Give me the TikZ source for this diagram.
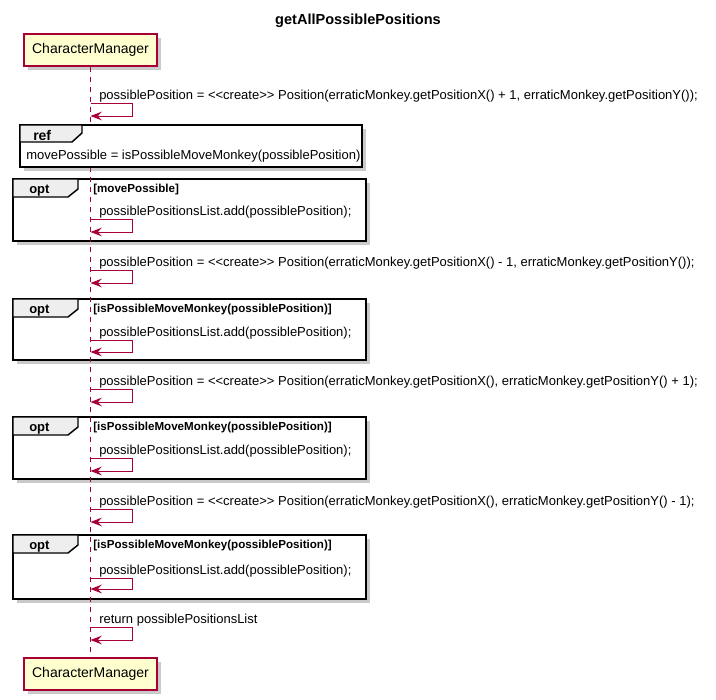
\documentclass[tikz,border=0pt]{standalone}
\usepackage{fontspec}
\setmainfont{Liberation Sans}
\usetikzlibrary{positioning, arrows.meta, shadows}
\definecolor{umlRed} {HTML}{A80036}
\definecolor{umlFill}{HTML}{FEFECE}
\definecolor{umlTab} {HTML}{EEEEEE}
\newcommand{\stereo}[1]{<\kern0pt<#1>\kern0pt>}
\tikzset{
  umlshadow/.style={drop shadow={shadow xshift=3pt, shadow yshift=-3pt, opacity=.35, fill=black!60}},
  participant/.style={draw=umlRed, fill=umlFill, line width=1.1pt, umlshadow,
    minimum width=100pt, minimum height=24pt, inner sep=0pt, font=\fontsize{10.5}{12}\selectfont},
  lifeline/.style={draw=umlRed, line width=0.75pt, dash pattern=on 3.75pt off 3.75pt},
  selfmsg/.style={draw=umlRed, line width=0.75pt, -{Stealth[length=8.5pt, width=6.5pt, inset=3pt]}},
  msgtext/.style={anchor=base west, inner sep=0pt, font=\fontsize{9.75}{11}\selectfont},
  umlframe/.style={draw=black, line width=1.1pt, fill=white, umlshadow},
  umltab/.style={draw=black, line width=1.1pt, fill=umlTab},
  tabtext/.style={anchor=base west, inner sep=0pt, font=\bfseries\fontsize{9.75}{11}\selectfont},
  guard/.style={anchor=base west, inner sep=0pt, font=\bfseries\fontsize{8.7}{10}\selectfont},
}

\begin{document}
\begin{tikzpicture}[x=0.75pt, y=-0.75pt]
  \useasboundingbox (0,0) rectangle (716,699);
  % Title
  \node[anchor=base, inner sep=0pt, font=\bfseries\fontsize{10.9}{12}\selectfont] (title) at (358,25)
       {getAllPossiblePositions};

  % Opt frames (drawn first, lifeline goes over them)
  \draw[umlframe] (13,179) rectangle (366,241);
  \draw[umltab] (13,179) -- (78,179) -- (78,189) -- (68,197) -- (13,197) -- cycle;
  \node[tabtext] (optTabA) at (29,193) {opt};
  \node[guard] (guardA) at (93,192) {[movePossible]};

  \draw[umlframe] (13,299) rectangle (366,360);
  \draw[umltab] (13,299) -- (78,299) -- (78,309) -- (68,317) -- (13,317) -- cycle;
  \node[tabtext] (optTabB) at (29,313) {opt};
  \node[guard] (guardB) at (93,312) {[isPossibleMoveMonkey(possiblePosition)]};

  \draw[umlframe] (13,417) rectangle (366,479);
  \draw[umltab] (13,417) -- (78,417) -- (78,427) -- (68,435) -- (13,435) -- cycle;
  \node[tabtext] (optTabC) at (29,431) {opt};
  \node[guard] (guardC) at (93,430) {[isPossibleMoveMonkey(possiblePosition)]};

  \draw[umlframe] (13,535) rectangle (366,599);
  \draw[umltab] (13,535) -- (78,535) -- (78,545) -- (68,553) -- (13,553) -- cycle;
  \node[tabtext] (optTabD) at (29,549) {opt};
  \node[guard] (guardD) at (93,548) {[isPossibleMoveMonkey(possiblePosition)]};

  % Participant and lifeline
  \node[participant] (cmTop) at (90.5,50)  {CharacterManager};
  \node[participant] (cmBot) at (90.5,674) {CharacterManager};
  \draw[lifeline] (cmTop.south) -- (cmBot.north);

  % Ref frame hides the lifeline
  \draw[umlframe] (20,125) rectangle (362,167);
  \draw[umltab] (20,125) -- (82,125) -- (82,133) -- (72,142) -- (20,142) -- cycle;
  \node[tabtext, font=\bfseries\fontsize{10.5}{12}\selectfont] (refTab) at (33,140) {ref};
  \node[msgtext] (refBody) at (26,159) {movePossible = isPossibleMoveMonkey(possiblePosition)};

  % Self messages
  \foreach \n/\ya/\yb in {1/103/116, 2/219/232, 3/270/283, 4/340/352, 5/389/402,
                          6/458/471, 7/509/522, 8/578/589, 9/627/640} {
    \coordinate (s\n a) at (90.5,\ya);
    \coordinate (s\n b) at (90.5,\yb);
    \draw[selfmsg] (s\n a) -- ++(42,0) |- (s\n b);
  }
  \node[msgtext] (msgA) at (99,99)
       {possiblePosition = \stereo{create} Position(erraticMonkey.getPositionX() + 1, erraticMonkey.getPositionY());};
  \node[msgtext] (addA) at (99,215) {possiblePositionsList.add(possiblePosition);};
  \node[msgtext] (msgB) at (99,266)
       {possiblePosition = \stereo{create} Position(erraticMonkey.getPositionX() - 1, erraticMonkey.getPositionY());};
  \node[msgtext] (addB) at (99,336) {possiblePositionsList.add(possiblePosition);};
  \node[msgtext] (msgC) at (99,385)
       {possiblePosition = \stereo{create} Position(erraticMonkey.getPositionX(), erraticMonkey.getPositionY() + 1);};
  \node[msgtext] (addC) at (99,454) {possiblePositionsList.add(possiblePosition);};
  \node[msgtext] (msgD) at (99,505)
       {possiblePosition = \stereo{create} Position(erraticMonkey.getPositionX(), erraticMonkey.getPositionY() - 1);};
  \node[msgtext] (addD) at (99,574) {possiblePositionsList.add(possiblePosition);};
  \node[msgtext] (retE) at (99,623) {return possiblePositionsList};
\end{tikzpicture}
\end{document}
